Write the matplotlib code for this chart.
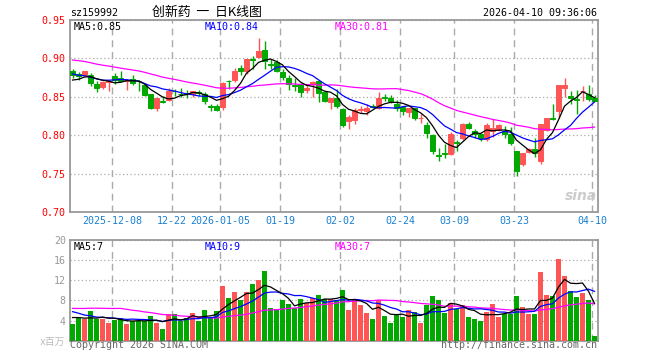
import matplotlib
matplotlib.use("Agg")
import matplotlib.pyplot as plt
import numpy as np
import pandas as pd

# 创新药 (sz159992) daily K, 2025-11-27 .. 2026-04-10, 88 trading days
opens = [0.884, 0.880, 0.878, 0.879, 0.867, 0.863, 0.869, 0.877, 0.874, 0.870,
         0.873, 0.871, 0.865, 0.853, 0.835, 0.845, 0.846, 0.858, 0.854, 0.855,
         0.853, 0.856, 0.854, 0.838, 0.838, 0.837, 0.871, 0.872, 0.887, 0.883,
         0.899, 0.902, 0.911, 0.893, 0.895, 0.882, 0.875, 0.865, 0.867, 0.859,
         0.867, 0.870, 0.856, 0.843, 0.848, 0.834, 0.818, 0.820, 0.833, 0.831,
         0.838, 0.835, 0.850, 0.848, 0.841, 0.837, 0.830, 0.835, 0.822, 0.813,
         0.800, 0.774, 0.777, 0.776, 0.791, 0.796, 0.815, 0.805, 0.802, 0.795,
         0.805, 0.807, 0.806, 0.801, 0.779, 0.762, 0.778, 0.782, 0.766, 0.807,
         0.822, 0.831, 0.861, 0.851, 0.847, 0.857, 0.853, 0.848]
highs = [0.886, 0.882, 0.884, 0.881, 0.870, 0.870, 0.872, 0.881, 0.884, 0.873,
         0.878, 0.872, 0.867, 0.854, 0.849, 0.851, 0.862, 0.860, 0.861, 0.859,
         0.858, 0.859, 0.856, 0.840, 0.840, 0.869, 0.872, 0.888, 0.892, 0.899,
         0.903, 0.926, 0.923, 0.899, 0.898, 0.886, 0.879, 0.874, 0.868, 0.867,
         0.871, 0.872, 0.857, 0.849, 0.860, 0.835, 0.826, 0.835, 0.838, 0.841,
         0.841, 0.856, 0.854, 0.852, 0.846, 0.838, 0.836, 0.836, 0.827, 0.817,
         0.801, 0.783, 0.788, 0.804, 0.794, 0.816, 0.817, 0.808, 0.803, 0.816,
         0.821, 0.815, 0.812, 0.811, 0.779, 0.777, 0.783, 0.796, 0.815, 0.823,
         0.840, 0.865, 0.875, 0.858, 0.859, 0.864, 0.866, 0.852]
lows = [0.875, 0.872, 0.877, 0.864, 0.856, 0.860, 0.857, 0.867, 0.870, 0.859,
        0.866, 0.857, 0.851, 0.834, 0.832, 0.842, 0.845, 0.851, 0.850, 0.848,
        0.850, 0.851, 0.840, 0.832, 0.831, 0.833, 0.860, 0.869, 0.879, 0.880,
        0.886, 0.900, 0.886, 0.886, 0.882, 0.872, 0.859, 0.858, 0.850, 0.855,
        0.850, 0.843, 0.843, 0.834, 0.835, 0.811, 0.808, 0.814, 0.829, 0.826,
        0.835, 0.834, 0.845, 0.842, 0.831, 0.826, 0.824, 0.820, 0.816, 0.796,
        0.776, 0.767, 0.770, 0.774, 0.780, 0.794, 0.808, 0.797, 0.792, 0.793,
        0.798, 0.805, 0.796, 0.787, 0.747, 0.760, 0.777, 0.771, 0.763, 0.805,
        0.820, 0.823, 0.850, 0.840, 0.827, 0.845, 0.845, 0.844]
closes = [0.879, 0.877, 0.883, 0.868, 0.861, 0.869, 0.871, 0.872, 0.871, 0.872,
          0.868, 0.870, 0.852, 0.836, 0.848, 0.843, 0.857, 0.857, 0.853, 0.854,
          0.857, 0.855, 0.845, 0.837, 0.833, 0.868, 0.870, 0.883, 0.884, 0.899,
          0.898, 0.910, 0.897, 0.892, 0.883, 0.876, 0.867, 0.864, 0.856, 0.862,
          0.869, 0.855, 0.845, 0.849, 0.838, 0.813, 0.824, 0.833, 0.834, 0.835,
          0.837, 0.849, 0.849, 0.844, 0.835, 0.831, 0.835, 0.822, 0.823, 0.803,
          0.779, 0.773, 0.776, 0.802, 0.790, 0.814, 0.809, 0.801, 0.797, 0.813,
          0.809, 0.813, 0.802, 0.790, 0.754, 0.777, 0.782, 0.777, 0.815, 0.822,
          0.821, 0.865, 0.866, 0.848, 0.846, 0.858, 0.847, 0.845]
# volume, x百万
volumes = [3.3, 4.5, 4.3, 5.9, 4.4, 4.3, 3.5, 4.2, 4.6, 3.3,
           3.9, 3.9, 4.0, 5.0, 3.6, 2.4, 5.4, 5.3, 4.0, 4.6,
           5.5, 4.0, 6.0, 4.6, 5.9, 10.9, 8.5, 9.7, 8.1, 9.7,
           11.3, 12.0, 13.9, 6.5, 6.2, 8.1, 7.3, 6.5, 8.3, 7.4,
           8.4, 9.0, 8.3, 8.2, 8.1, 10.1, 6.1, 8.2, 7.1, 5.5,
           4.3, 8.1, 4.9, 3.5, 5.1, 4.7, 6.1, 5.7, 3.5, 7.1,
           8.9, 8.1, 5.5, 7.5, 6.3, 7.1, 4.7, 4.3, 3.9, 5.7,
           7.3, 4.7, 5.3, 5.3, 8.9, 6.7, 5.3, 5.3, 13.7, 9.1,
           8.9, 16.3, 12.9, 9.9, 8.7, 9.5, 8.1, 0.9]

# days before the window, only used so the moving averages start at the left edge
prev_closes = [0.905, 0.912, 0.918, 0.915, 0.910, 0.906, 0.911, 0.914, 0.908, 0.903,
               0.907, 0.905, 0.900, 0.906, 0.910, 0.904, 0.899, 0.902, 0.905, 0.899,
               0.895, 0.890, 0.886, 0.884, 0.885, 0.872, 0.868, 0.866, 0.874]
prev_volumes = [4.8, 4.2, 4.6, 4.3, 4.9, 4.4, 4.1, 4.4, 8.5, 9.6,
                7.8, 10.2, 8.9, 9.1, 8.4, 7.9, 6.8, 8.2, 7.1, 6.5,
                7.6, 8.0, 7.3, 7.0, 4.8, 4.5, 4.9, 5.6, 4.7]

tick_idx = [7, 17, 25, 35, 45, 55, 64, 74, 87]
tick_labels = ["2025-12-08", "12-22", "2026-01-05", "01-19", "02-02",
               "02-24", "03-09", "03-23", "04-10"]

RED = "#ff5555"
GREEN = "#00a800"
GRID = "#aaaaaa"
plt.rcParams["font.family"] = ["DejaVu Sans Mono", "Noto Sans CJK SC"]

W, H = 660, 360
fig = plt.figure(figsize=(6.6, 3.6), dpi=100)
fig.patch.set_facecolor("white")


def fx(px):
    return px / W


def fy(py):
    return 1 - py / H


ax = fig.add_axes([fx(70), fy(212), fx(597.5) - fx(70), fy(20) - fy(212)])
axv = fig.add_axes([fx(70), fy(340.7), fx(597.5) - fx(70), fy(240) - fy(340.7)])

n = len(closes)
x = np.arange(n)
o, h, l, c = map(np.array, (opens, highs, lows, closes))
col = np.where(c > o, RED, GREEN)

# moving averages
cs = pd.Series(prev_closes + closes)
vs = pd.Series(prev_volumes + volumes)
ma = {k: cs.rolling(k).mean().to_numpy()[-n:] for k in (5, 10, 30)}
vma = {k: vs.rolling(k).mean().to_numpy()[-n:] for k in (5, 10, 30)}
ma_colors = {5: "black", 10: "#0000ff", 30: "#ff00ff"}

# candles
ax.vlines(x, l, h, colors=col, lw=1, zorder=3)
ax.bar(x, np.abs(c - o), bottom=np.minimum(o, c), width=0.7, color=col,
       edgecolor=col, linewidth=0.7, zorder=3)
for k in (30, 10, 5):
    ax.plot(x, ma[k], color=ma_colors[k], lw=0.9, zorder=4)

# volume
axv.bar(x, volumes, width=0.8, color=col, zorder=3)
for k in (30, 10, 5):
    axv.plot(x, vma[k], color=ma_colors[k], lw=0.9, zorder=4)

xt = np.array(tick_idx) - 0.42
for a in (ax, axv):
    a.set_xlim(-0.42, 87.5)
    a.set_xticks(xt)
    a.set_axisbelow(True)
    a.xaxis.grid(True, ls=(0, (5, 3.5)), color=GRID, lw=1)
    a.yaxis.grid(True, ls=(0, (1, 2)), color=GRID, lw=0.9)
    a.tick_params(length=0, labelsize=7.2, pad=3)
    for s in a.spines.values():
        s.set_color("#999999")
        s.set_linewidth(1.3)

ax.set_ylim(0.70, 0.95)
ax.set_yticks([0.70, 0.75, 0.80, 0.85, 0.90, 0.95])
ax.set_yticklabels(["0.70", "0.75", "0.80", "0.85", "0.90", "0.95"], color="#ff0000")
ax.set_xticklabels(tick_labels, color="#1a80d0")

axv.set_ylim(0, 20)
axv.set_yticks([4, 8, 12, 16, 20])
axv.set_yticklabels(["4", "8", "12", "16", "20"], color="#999999")
axv.set_xticklabels([])

# texts
mono = 7.2
fig.text(fx(70), fy(13), "sz159992", fontsize=mono, va="center", ha="left")
fig.text(fx(207), fy(12), "创新药  一  日K线图", fontsize=9.3, va="center", ha="center",
         family=["Noto Sans CJK SC", "DejaVu Sans"])
fig.text(fx(597), fy(13), "2026-04-10 09:36:06", fontsize=mono, va="center", ha="right")

fig.text(fx(74), fy(26.5), "MA5:0.85", fontsize=mono, va="center", color="black")
fig.text(fx(205), fy(26.5), "MA10:0.84", fontsize=mono, va="center", color="#0000ff")
fig.text(fx(335), fy(26.5), "MA30:0.81", fontsize=mono, va="center", color="#ff00ff")

fig.text(fx(74), fy(247), "MA5:7", fontsize=mono, va="center", color="black")
fig.text(fx(205), fy(247), "MA10:9", fontsize=mono, va="center", color="#0000ff")
fig.text(fx(335), fy(247), "MA30:7", fontsize=mono, va="center", color="#ff00ff")

fig.text(fx(65), fy(342), "x百万", fontsize=7, va="center", ha="right", color="#bbbbbb")
fig.text(fx(70), fy(345.5), "Copyright 2026 SINA.COM", fontsize=mono, va="center",
         ha="left", color="#666666")
fig.text(fx(597), fy(345.5), "http://finance.sina.com.cn", fontsize=mono, va="center",
         ha="right", color="#666666")

# sina watermark
fig.text(fx(581), fy(196), "sina", fontsize=10, va="center", ha="center",
         color="#cccccc", style="italic", weight="bold", family="DejaVu Sans")

fig.savefig("out.png", dpi=100)
